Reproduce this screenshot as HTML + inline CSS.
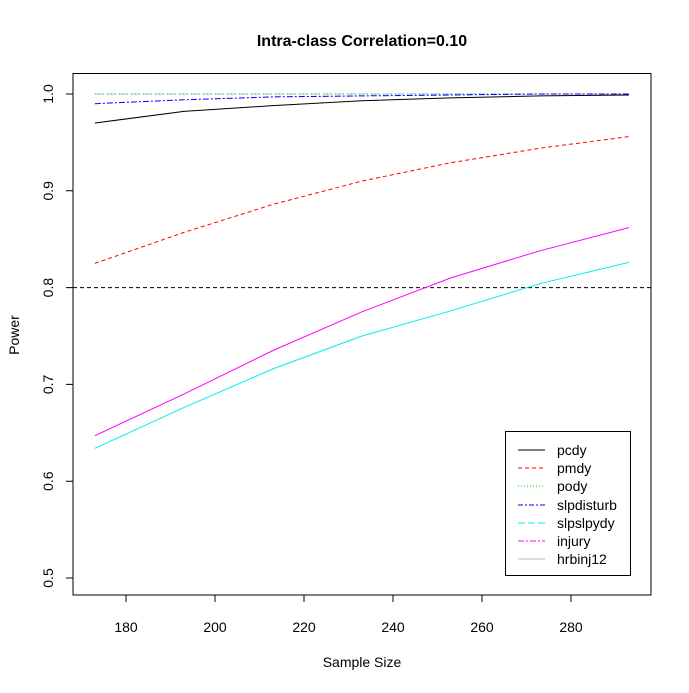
<!DOCTYPE html><html><head><style>body{margin:0;background:#fff}svg text{font-family:"Liberation Sans",Arial,sans-serif}</style></head><body>
<svg width="689" height="688" xmlns="http://www.w3.org/2000/svg">
<rect width="689" height="688" fill="#fff"/>
<text x="362" y="46" text-anchor="middle" font-size="16" font-weight="bold">Intra-class Correlation=0.10</text>
<rect x="73" y="73.5" width="578" height="521.5" fill="none" stroke="#000"/>
<g stroke="#000" fill="none">
<path d="M73 94H66M73 190.8H66M73 287.6H66M73 384.4H66M73 481.2H66M73 578H66"/>
<path d="M126 595V602M215 595V602M304 595V602M393 595V602M482 595V602M571 595V602"/>
</g>
<g font-size="14" text-anchor="middle" fill="#000">
<text transform="translate(53,94) rotate(-90)">1.0</text>
<text transform="translate(53,190.8) rotate(-90)">0.9</text>
<text transform="translate(53,287.6) rotate(-90)">0.8</text>
<text transform="translate(53,384.4) rotate(-90)">0.7</text>
<text transform="translate(53,481.2) rotate(-90)">0.6</text>
<text transform="translate(53,578) rotate(-90)">0.5</text>
<text x="126" y="632">180</text><text x="215" y="632">200</text><text x="304" y="632">220</text><text x="393" y="632">240</text><text x="482" y="632">260</text><text x="571" y="632">280</text>
<text x="362" y="667">Sample Size</text>
<text transform="translate(19,335) rotate(-90)">Power</text>
</g>
<line x1="73" y1="287.6" x2="651" y2="287.6" stroke="#000" stroke-dasharray="4,3"/>
<g fill="none" stroke-width="1">
<path d="M94.9 94H628.9" stroke="#bbb" stroke-dasharray="8,4"/>
<path d="M94.9 94H628.9" stroke="#0c0" stroke-dasharray="1,3"/>
<path d="M94.9 103.7L183.9 99.8L272.9 96.9L361.9 95.9L450.9 95L539.9 94L628.9 94" stroke="#00f" stroke-dasharray="6,2,2,2"/>
<path d="M94.9 123L183.9 111.4L272.9 105.6L361.9 100.8L450.9 97.9L539.9 95.9L628.9 95" stroke="#000"/>
<path d="M94.9 263.4L183.9 232.4L272.9 204.4L361.9 181.1L450.9 162.7L539.9 148.2L628.9 136.6" stroke="#f00" stroke-dasharray="4,3"/>
<path d="M94.9 435.7L183.9 394.1L272.9 350.5L361.9 311.8L450.9 277.9L539.9 250.8L628.9 227.6" stroke="#f0f"/>
<path d="M94.9 448.3L183.9 407.6L272.9 368.9L361.9 336L450.9 310.8L539.9 283.7L628.9 262.4" stroke="#0ee"/>
</g>
<rect x="505.5" y="431.5" width="125" height="144" fill="#fff" stroke="#000"/>
<g fill="none">
<path d="M518 450H545" stroke="#000"/>
<path d="M518 468H545" stroke="#f00" stroke-dasharray="4,3"/>
<path d="M518 486H545" stroke="#0c0" stroke-dasharray="1,2"/>
<path d="M518 505H545" stroke="#00f" stroke-dasharray="5,2,2,2"/>
<path d="M518 523H545" stroke="#0ee" stroke-dasharray="7,3"/>
<path d="M518 541H545" stroke="#f0f" stroke-dasharray="6,2,2,2"/>
<path d="M518 559H545" stroke="#bbb"/>
</g>
<g font-size="14" fill="#000">
<text x="557" y="455">pcdy</text><text x="557" y="473">pmdy</text><text x="557" y="491">pody</text><text x="557" y="510">slpdisturb</text><text x="557" y="528">slpslpydy</text><text x="557" y="546">injury</text><text x="557" y="564">hrbinj12</text>
</g>
</svg></body></html>
